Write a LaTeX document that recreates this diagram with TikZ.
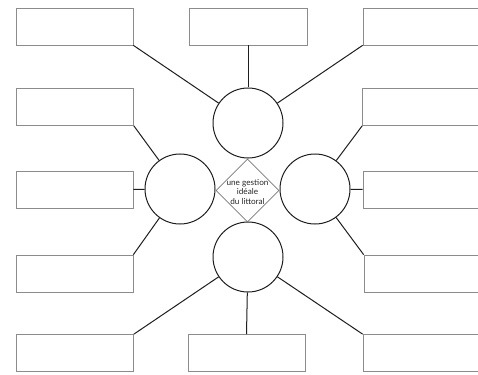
\documentclass[tikz,border=0pt]{standalone}
\usepackage{fontspec}
\setsansfont{Lato}
\usetikzlibrary{shapes.geometric}
\definecolor{BoxGray}{RGB}{140,140,140}
\definecolor{LineDark}{RGB}{30,30,30}
\definecolor{CoreGray}{RGB}{120,120,120}

\begin{document}
\begin{tikzpicture}[x=1pt, y=-1pt,
    box/.style={draw=BoxGray, line width=0.7pt, minimum width=117pt, minimum height=37pt, inner sep=0pt},
    hub/.style={circle, draw=LineDark, line width=1pt, minimum size=70pt, inner sep=0pt},
    spoke/.style={draw=LineDark, line width=1pt}]
    \useasboundingbox[fill=white] (0,0) rectangle (478,374);

    \node[hub] (HubT) at (248,123) {};
    \node[hub] (HubL) at (180,189) {};
    \node[hub] (HubR) at (315,189) {};
    \node[hub] (HubB) at (248,257) {};

    \node[diamond, draw=CoreGray, line width=0.7pt, minimum width=63pt, minimum height=63pt, inner sep=0pt] (Core) at (247.5,190.5) {};
    \node[font=\sffamily\fontsize{8.2}{9.6}\selectfont, text=black!85, align=center, inner sep=0pt] (CoreText) at (247.5,192) {une gestion\\idéale\\du littoral};

    \node[box] (BoxTL) at (74.5,26.5) {};
    \node[box, minimum width=118pt] (BoxTM) at (248,26.5) {};
    \node[box] (BoxTR) at (421.5,26.5) {};
    \node[box] (BoxL2) at (75,107) {};
    \node[box] (BoxR2) at (421,107) {};
    \node[box] (BoxL3) at (74.5,189.5) {};
    \node[box] (BoxR3) at (421.5,189.5) {};
    \node[box] (BoxL4) at (74.5,273.5) {};
    \node[box] (BoxR4) at (422.5,273.5) {};
    \node[box] (BoxBL) at (75,353) {};
    \node[box] (BoxBM) at (246.5,353) {};
    \node[box] (BoxBR) at (421.5,353) {};

    \draw[spoke] (BoxTL.south east) -- (HubT);
    \draw[spoke] (BoxTM.south) -- (HubT);
    \draw[spoke] (BoxTR.south west) -- (HubT);
    \draw[spoke] (BoxL2.south east) -- (HubL);
    \draw[spoke] (BoxL3.east) -- (HubL);
    \draw[spoke] (BoxL4.north east) -- (HubL);
    \draw[spoke] (BoxR2.south west) -- (HubR);
    \draw[spoke] (BoxR3.west) -- (HubR);
    \draw[spoke] (BoxR4.north west) -- (HubR);
    \draw[spoke] (BoxBL.north east) -- (HubB);
    \draw[spoke] (BoxBM.north) -- (HubB);
    \draw[spoke] (BoxBR.north west) -- (HubB);
\end{tikzpicture}
\end{document}
